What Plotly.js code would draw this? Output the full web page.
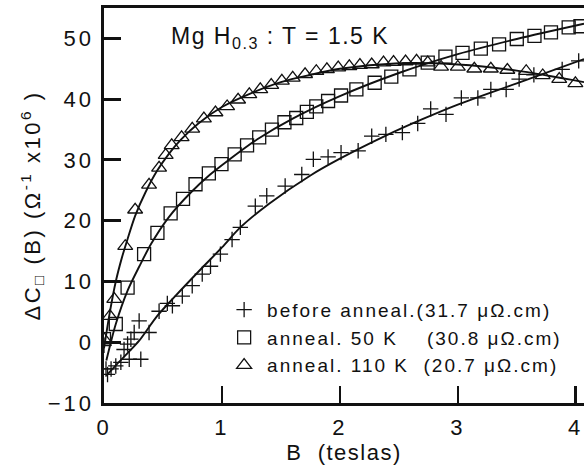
<!DOCTYPE html>
<html>
<head>
<meta charset="utf-8">
<script src="https://cdn.plot.ly/plotly-3.0.1.min.js"></script>
<style>
  html, body { margin: 0; padding: 0; background: #fff; }
  #chart { width: 584px; height: 471px; }
  .xtick text, .ytick text { letter-spacing: 3px; }
  .xtitle { letter-spacing: 1.5px; }
  .ytitle { letter-spacing: 2.5px; }
  .legendtext { letter-spacing: 2px; }
  .annotation-text { letter-spacing: 1.5px; }
</style>
</head>
<body>
<div id="chart"></div>
<script>
// ---- data (B in teslas, ΔC in Ω^-1 x10^6) ----
const crossB = [0.0, 0.017, 0.03, 0.06, 0.1, 0.143, 0.17, 0.2, 0.214, 0.228, 0.256, 0.298, 0.312, 0.382, 0.467, 0.537, 0.58, 0.664, 0.748, 0.833, 0.903, 0.987, 1.086, 1.156, 1.283, 1.38, 1.536, 1.677, 1.775, 1.90, 2.01, 2.155, 2.27, 2.39, 2.53, 2.66, 2.77, 2.9, 3.03, 3.17, 3.28, 3.41, 3.52, 3.645, 3.885, 4.025];
const crossV = [-0.5, -4.4, -5.3, -4.4, -3.9, -3.3, -1.2, -0.3, -2.8, 0.5, 1.6, 3.5, -2.8, 1.6, 5.1, 6.4, 6.0, 7.6, 9.3, 11.2, 12.5, 14.5, 16.9, 18.9, 22.4, 24.1, 25.7, 27.6, 30.1, 30.5, 31.2, 31.5, 33.9, 34.2, 34.5, 36.0, 38.4, 37.5, 40.2, 40.2, 41.6, 41.6, 43.3, 44.0, 44.9, 46.3];

const squareB = [0.0, 0.1, 0.2, 0.34, 0.453, 0.565, 0.67, 0.776, 0.889, 0.996, 1.108, 1.213, 1.316, 1.424, 1.53, 1.63, 1.72, 1.80, 1.90, 2.01, 2.14, 2.295, 2.436, 2.59, 2.745, 2.895, 3.04, 3.195, 3.35, 3.50, 3.65, 3.79, 3.94, 4.04];
const squareV = [0.5, 3.0, 9.0, 14.5, 18.0, 21.2, 23.6, 26.0, 27.8, 29.3, 30.9, 32.4, 33.7, 35.0, 36.2, 36.9, 37.9, 38.8, 39.7, 40.6, 41.6, 42.7, 43.7, 44.9, 46.0, 47.0, 47.6, 48.3, 49.0, 49.9, 50.4, 51.0, 51.8, 52.0];

const triB = [0.0, 0.05, 0.087, 0.18, 0.264, 0.382, 0.467, 0.523, 0.574, 0.658, 0.748, 0.847, 0.945, 1.044, 1.137, 1.232, 1.325, 1.418, 1.508, 1.6, 1.705, 1.80, 1.89, 1.986, 2.08, 2.17, 2.27, 2.37, 2.455, 2.557, 2.65, 2.745, 2.858, 3.0, 3.14, 3.28, 3.42, 3.58, 3.72, 3.86, 3.997];
const triV = [0.5, 4.3, 7.1, 15.8, 21.8, 25.9, 28.7, 30.8, 32.4, 33.7, 35.1, 36.8, 37.8, 38.8, 39.9, 40.8, 41.6, 42.3, 43.0, 43.5, 44.1, 44.6, 44.9, 45.2, 45.4, 45.6, 45.7, 46.0, 46.1, 46.2, 46.3, 46.0, 45.3, 45.3, 45.0, 45.0, 44.8, 44.6, 43.9, 43.3, 42.6];

// fitted curves
const crossFitB = [0.02, 0.1, 0.2, 0.3, 0.45, 0.6, 0.8, 1.0, 1.156, 1.4, 1.747, 2.0, 2.39, 2.7, 3.0, 3.5, 4.07];
const crossFitV = [-5.5, -3.8, -1.8, 0.3, 4.3, 7.5, 11.6, 15.6, 18.9, 22.8, 27.4, 30.2, 34.0, 36.7, 39.1, 42.6, 46.6];
const squareFitB = [0.02, 0.1, 0.2, 0.3, 0.4, 0.55, 0.734, 0.9, 1.044, 1.3, 1.6, 2.0, 2.5, 3.0, 3.5, 4.07];
const squareFitV = [-3.0, 3.0, 8.5, 12.5, 16.2, 20.6, 24.6, 27.6, 29.8, 33.4, 36.8, 40.5, 44.3, 47.4, 49.9, 52.4];
const triFitB = [0.0, 0.05, 0.1, 0.15, 0.2, 0.264, 0.35, 0.45, 0.55, 0.65, 0.8, 1.0, 1.25, 1.5, 1.75, 2.0, 2.5, 3.0, 3.5, 4.07];
const triFitV = [-1.0, 5.0, 10.0, 13.8, 17.0, 20.8, 24.6, 28.2, 31.0, 33.3, 36.0, 38.7, 41.0, 42.8, 44.0, 45.0, 45.9, 45.7, 44.7, 42.8];

const seriesNames = [
  'before anneal.(31.7 \u03bc\u03a9.cm)',
  'anneal. 50 K\u00a0\u00a0\u00a0\u00a0(30.8 \u03bc\u03a9.cm)',
  'anneal. 110 K\u00a0\u00a0(20.7 \u03bc\u03a9.cm)'
];
const xTickVals = [0, 1, 2, 3, 4];
const yTickVals = [-10, 0, 10, 20, 30, 40, 50];

const ink = '#111';
const FONT = 'Liberation Sans, Arial, Helvetica, sans-serif';

function fit(x, y) {
  return { x: x, y: y, type: 'scatter', mode: 'lines', showlegend: false, hoverinfo: 'skip',
           line: { color: ink, width: 1.9, shape: 'spline', smoothing: 0.8 } };
}
function pts(x, y, name, symbol, size) {
  return { x: x, y: y, type: 'scatter', mode: 'markers', name: name,
           marker: { symbol: symbol, size: size, color: ink, line: { color: ink, width: 1.3 } } };
}

const data = [
  fit(crossFitB, crossFitV),
  fit(squareFitB, squareFitV),
  fit(triFitB, triFitV),
  pts(crossB, crossV, seriesNames[0], 'cross-thin-open', 11),
  pts(squareB, squareV, seriesNames[1], 'square-open', 13),
  pts(triB, triV, seriesNames[2], 'triangle-up-open', 13)
];

const layout = {
  width: 584, height: 471,
  margin: { l: 104, r: 0, t: 8, b: 68 },
  paper_bgcolor: '#fff', plot_bgcolor: '#fff',
  font: { family: FONT, color: ink, size: 21 },
  showlegend: true,
  legend: {
    x: 0.244, y: 0.284, xanchor: 'left', yanchor: 'top',
    bgcolor: 'rgba(0,0,0,0)', borderwidth: 0,
    font: { family: FONT, size: 19, color: ink },
    tracegroupgap: 0, itemwidth: 36
  },
  xaxis: {
    range: [0, 4.07], tickvals: xTickVals,
    ticks: 'inside', ticklen: 17, tickwidth: 2.5, tickcolor: ink,
    showline: true, linewidth: 3, linecolor: ink, mirror: true,
    showgrid: false, zeroline: false,
    tickfont: { family: FONT, size: 22, color: ink },
    ticklabelstandoff: 3,
    title: { text: 'B  (teslas)', font: { family: FONT, size: 22, color: ink }, standoff: 2 }
  },
  yaxis: {
    range: [-10, 55], tickvals: yTickVals,
    ticks: 'inside', ticklen: 17, tickwidth: 3, tickcolor: ink,
    showline: true, linewidth: 3.5, linecolor: ink, mirror: false,
    showgrid: false, zeroline: false,
    tickfont: { family: FONT, size: 22, color: ink },
    ticklabelstandoff: 2,
    title: { text: '\u0394C<sub>\u25a1</sub> (B) (\u03a9<sup>-1</sup> x10<sup>6</sup> )\u00a0\u00a0', font: { family: FONT, size: 22, color: ink }, standoff: 2 }
  },
  annotations: [{
    text: 'Mg H<sub>0.3</sub> : T = 1.5 K',
    xref: 'paper', yref: 'paper', x: 0.135, y: 0.925, xanchor: 'left', yanchor: 'middle',
    showarrow: false, font: { family: FONT, size: 23, color: ink }
  }]
};

Plotly.newPlot('chart', data, layout, { displayModeBar: false, staticPlot: true });
</script>
</body>
</html>
